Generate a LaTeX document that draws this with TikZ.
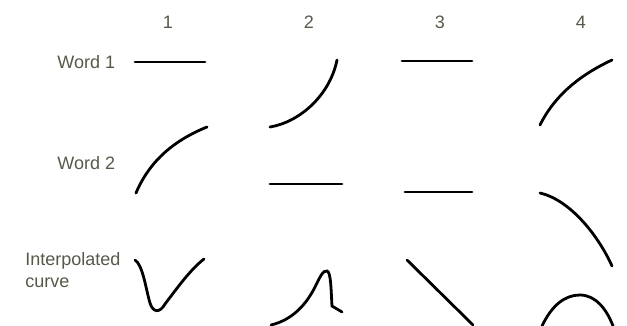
\documentclass[tikz,border=0pt]{standalone}
\usepackage{fontspec}
\setmainfont{Liberation Sans}
\usepackage{xcolor}
\usepackage{tikz}
\usetikzlibrary{positioning}
\definecolor{labelgray}{RGB}{88,88,74}
\tikzset{
  label text/.style={font=\fontsize{9}{11}\selectfont, text=labelgray, inner sep=0pt},
  rowlabel/.style={label text, anchor=west, align=left},
  curveline/.style={line width=1.4pt, line cap=round, black},
}

\begin{document}
\begin{tikzpicture}[x=0.5pt, y=-0.5pt]
  \useasboundingbox (0,0) rectangle (627,326);

  % Column numbers
  \foreach \n/\x in {1/168, 2/309, 3/440, 4/581} {
    \node[label text] (col\n) at (\x,22) {\n};
  }

  % Row labels
  \node[rowlabel] (word1) at (57,62) {Word 1};
  \node[rowlabel] (word2) at (57,163) {Word 2};
  \node[rowlabel] (interp) at (25,270) {Interpolated\\curve};

  % Word 1
  \draw[curveline] (135,62) -- (205,62);
  \draw[curveline] (270,127) .. controls (300,122) and (330,95) .. (337,60);
  \draw[curveline] (402,61) -- (472,61);
  \draw[curveline] (540,125) .. controls (555,95) and (580,75) .. (612,60);

  % Word 2
  \draw[curveline] (136,193) .. controls (150,160) and (175,140) .. (207,127);
  \draw[curveline] (270,184) -- (342,184);
  \draw[curveline] (405,192) -- (472,192);
  \draw[curveline] (540,193) .. controls (570,200) and (598,235) .. (612,266);

  % Interpolated curve
  \draw[curveline] (135,260) .. controls (143,265) and (146,290) .. (150,303)
    .. controls (153,313) and (160,313) .. (165,304)
    .. controls (178,287) and (190,270) .. (204,259);
  \draw[curveline] (271,325) .. controls (292,320) and (306,305) .. (315,287)
    .. controls (320,277) and (323,270) .. (327,271)
    .. controls (331,272) and (331,290) .. (332,306)
    -- (342,312);
  \draw[curveline] (407,260) -- (473,325);
  \draw[curveline] (542,326) .. controls (552,305) and (565,295) .. (580,295)
    .. controls (596,295) and (607,310) .. (613,326);

\end{tikzpicture}
\end{document}
